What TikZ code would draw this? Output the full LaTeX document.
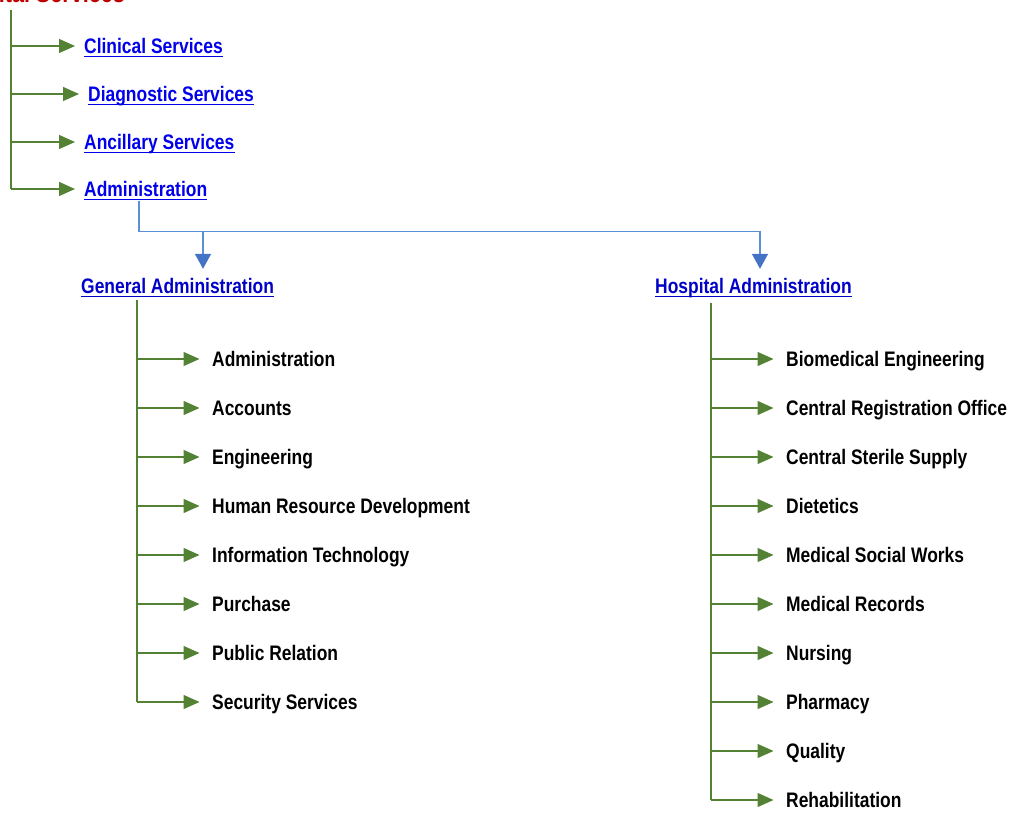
\documentclass[tikz,border=0pt]{standalone}
\usepackage{fontspec}
\newfontfamily\narrowsans{Liberation Sans}[FakeStretch=0.83]
\usetikzlibrary{arrows.meta}
\definecolor{grn}{HTML}{548235}
\definecolor{linkblue}{RGB}{0,0,235}
\definecolor{headblue}{RGB}{0,0,200}
\definecolor{titlered}{HTML}{C00000}
\definecolor{bline}{HTML}{5B8FD8}
\definecolor{barrow}{HTML}{4472C4}
\tikzset{
  x=1pt, y=-1pt,
  spine/.style={grn, line width=2.4pt},
  branch/.style={grn, line width=1.3pt, -{Triangle[length=16pt,width=14pt]}, shorten >=9pt},
  listbranch/.style={branch, shorten >=12.5pt},
  lbl/.style={anchor=west, inner sep=0pt, text height=15pt, text depth=0pt,
    font={\fontsize{21}{25}\selectfont\narrowsans\bfseries}},
  toplink/.style={lbl, text=linkblue},
  headlink/.style={lbl, text=headblue},
  ulline/.style={line width=1.8pt},
  blueline/.style={bline, line width=1.6pt},
  bluearrow/.style={bline, line width=1.6pt, -{Triangle[length=15pt,width=16pt,color=barrow]}, shorten >=9.5pt},
}
\begin{document}
\begin{tikzpicture}
\useasboundingbox (0,0) rectangle (1013,813);
\clip (0,0) rectangle (1013,813);
% title (cropped at top)
\node[anchor=base east, inner sep=0pt, text=titlered,
  font={\fontsize{26}{30}\selectfont\narrowsans\bfseries}] (title) at (125,3) {Hospital Services};
% top links
\coordinate (ls) at (11,10);
\node[toplink] (cs) at (84,46) {Clinical Services};
\node[toplink] (ds) at (88,94) {Diagnostic Services};
\node[toplink] (as) at (84,142) {Ancillary Services};
\node[toplink] (ad) at (84,189) {Administration};
\foreach \n in {cs,ds,as,ad}{
  \draw[ulline, linkblue] ([yshift=-3pt]\n.base west) -- ([yshift=-3pt]\n.base east);
}
\draw[spine] (ls) -- (ad.west -| ls);
\foreach \n in {cs,ds,as,ad}{
  \draw[branch] (\n.west -| ls) -- (\n.west);
}
% headings
\node[headlink] (ga) at (81,286) {General Administration};
\node[headlink] (ha) at (655,286) {Hospital Administration};
\foreach \n in {ga,ha}{
  \draw[ulline, headblue] ([yshift=-3pt]\n.base west) -- ([yshift=-3pt]\n.base east);
}
% blue connector
\coordinate (bj) at (139,201);
\coordinate (j1) at (203,231.5);
\coordinate (j2) at (760,231.5);
\draw[blueline] (bj) |- (j2);
\draw[bluearrow] (j1) -- (j1 |- ga.north);
\draw[bluearrow] (j2) -- (j2 |- ha.north);
% general administration list
\coordinate (gs) at (137,300);
\foreach \t [count=\i] in {Administration, Accounts, Engineering, Human Resource Development, Information Technology, Purchase, Public Relation, Security Services}{
  \node[lbl] (g\i) at (212,{359+49*(\i-1)}) {\t};
}
\draw[spine] (gs) -- (g8.west -| gs);
\foreach \i in {1,...,8}{
  \draw[listbranch] (g\i.west -| gs) -- (g\i.west);
}
% hospital administration list
\coordinate (hs) at (711,303);
\foreach \t [count=\i] in {Biomedical Engineering, Central Registration Office, Central Sterile Supply, Dietetics, Medical Social Works, Medical Records, Nursing, Pharmacy, Quality, Rehabilitation}{
  \node[lbl] (h\i) at (786,{359+49*(\i-1)}) {\t};
}
\draw[spine] (hs) -- (h10.west -| hs);
\foreach \i in {1,...,10}{
  \draw[listbranch] (h\i.west -| hs) -- (h\i.west);
}
\end{tikzpicture}
\end{document}
